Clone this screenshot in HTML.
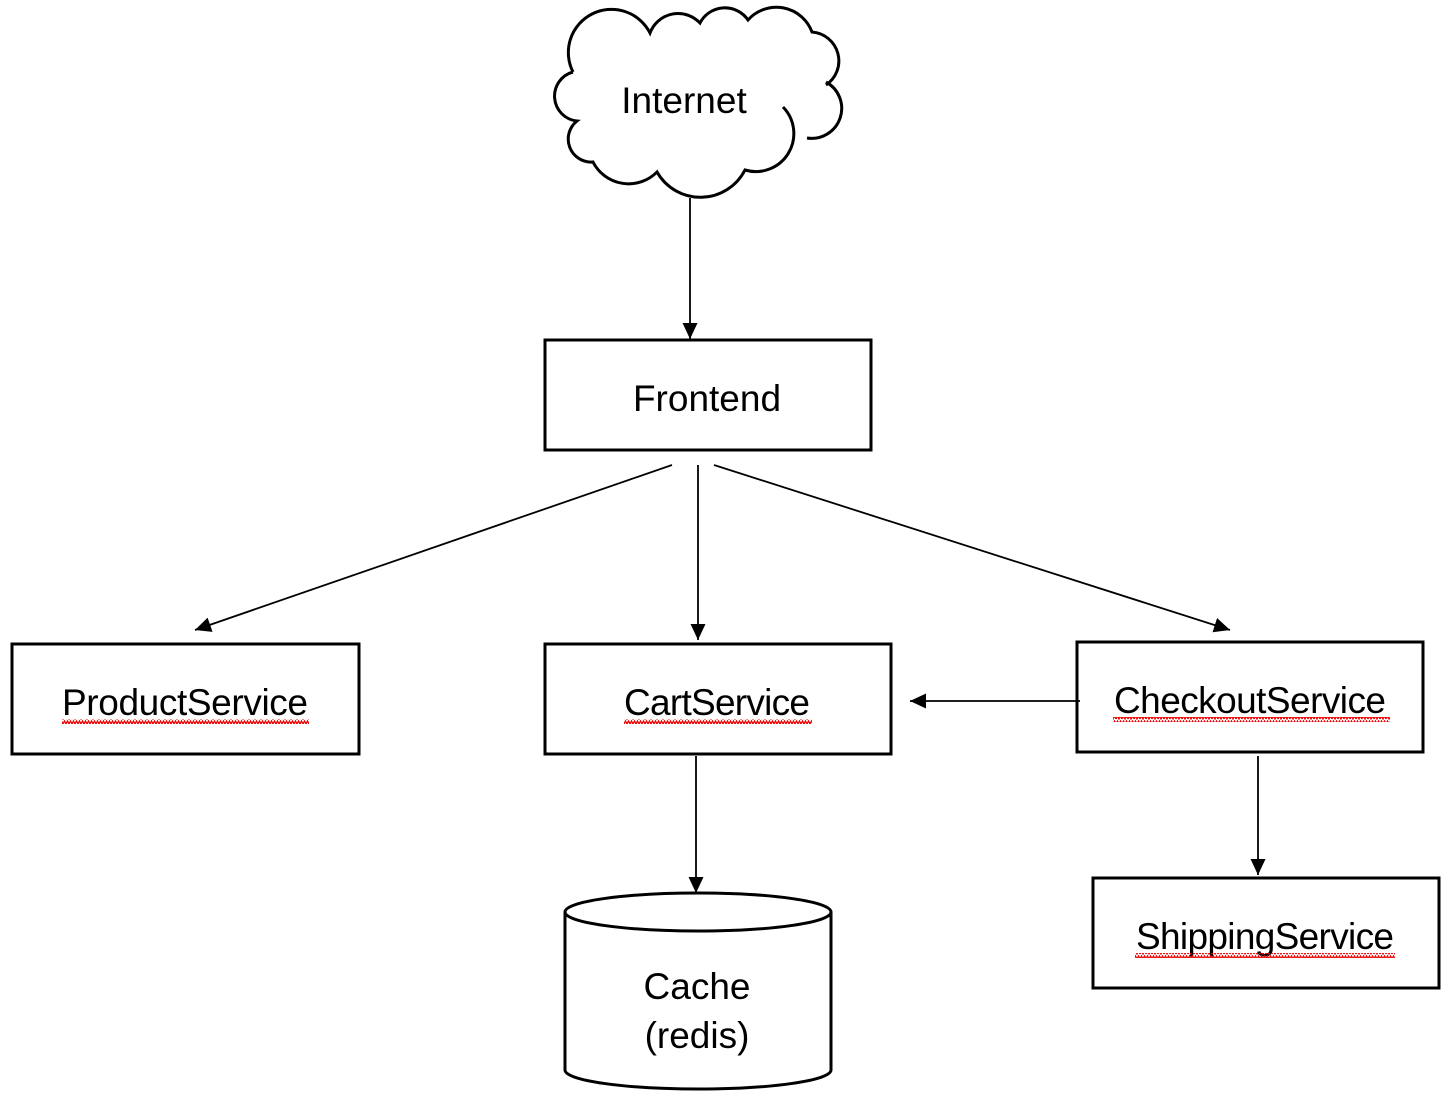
<!DOCTYPE html>
<html><head><style>body{margin:0;background:#fff}svg{display:block}</style></head><body>
<svg width="1456" height="1112" xmlns="http://www.w3.org/2000/svg">
<defs><marker id="a" markerWidth="16" markerHeight="16" refX="16" refY="7.5" orient="auto" markerUnits="userSpaceOnUse"><path d="M0,0 L16,7.5 L0,15 z" fill="#000"/></marker>
<pattern id="w" width="6" height="5" patternUnits="userSpaceOnUse"><path d="M0,4 L1.5,1 L3,4 L4.5,1 L6,4" fill="none" stroke="#e00" stroke-width="1.3"/></pattern></defs>
<g fill="none" stroke="#000" stroke-width="3">
<path d="M573,72 A42,42 0 0 1 650,33 A30,30 0 0 1 700,23 A28,28 0 0 1 748,20 A38,38 0 0 1 812,32 A29,29 0 0 1 826,85 M826,82 A30,30 0 0 1 807,138 M783,107 A38,38 0 0 1 745,170 A50,50 0 0 1 657,172 A40,40 0 0 1 593,162 A23,23 0 0 1 577,121 A25,25 0 0 1 573,72"/>
<rect x="545" y="340" width="326" height="110"/>
<rect x="12" y="644" width="347" height="110"/>
<rect x="545" y="644" width="346" height="110"/>
<rect x="1077" y="642" width="346" height="110"/>
<rect x="1093" y="878" width="346" height="110"/>
<path d="M565,912 A133,19 0 0 1 831,912 L831,1070 A133,19 0 0 1 565,1070 Z"/>
<path d="M565,912 A133,19 0 0 0 831,912"/>
</g>
<g stroke="#000" stroke-width="1.8" marker-end="url(#a)">
<line x1="690" y1="198" x2="690" y2="339"/>
<line x1="672" y1="465" x2="195" y2="630"/>
<line x1="698" y1="465" x2="698" y2="640"/>
<line x1="714" y1="465" x2="1230" y2="630"/>
<line x1="1080" y1="701" x2="910" y2="701"/>
<line x1="696" y1="756" x2="696" y2="893"/>
<line x1="1258" y1="756" x2="1258" y2="875"/>
</g>
<g font-family="Liberation Sans, sans-serif" font-size="37" text-anchor="middle" fill="#000">
<text x="684" y="113">Internet</text>
<text x="707" y="411">Frontend</text>
<text x="185" y="715" textLength="246">ProductService</text>
<text x="717" y="715" textLength="186">CartService</text>
<text x="1250" y="713" textLength="272">CheckoutService</text>
<text x="1265" y="949" textLength="258">ShippingService</text>
<text x="697" y="999">Cache</text>
<text x="697" y="1048">(redis)</text>
</g>
<g fill="url(#w)">
<rect x="62" y="719" width="247" height="5"/>
<rect x="624" y="719" width="188" height="5"/>
<rect x="1113" y="717" width="277" height="5"/>
<rect x="1135" y="953" width="260" height="5"/>
</g>
</svg>
</body></html>
